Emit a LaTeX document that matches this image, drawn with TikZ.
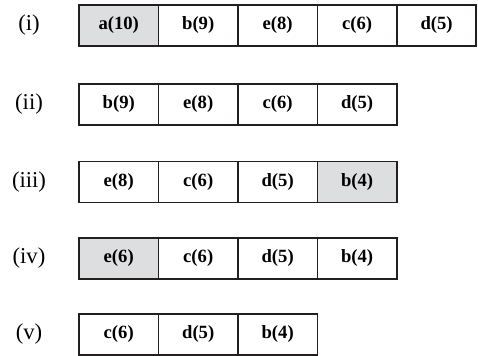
\documentclass[tikz,border=0pt]{standalone}
\usepackage{fontspec}
\setmainfont{Liberation Serif}
\usetikzlibrary{positioning}
\definecolor{CellGray}{RGB}{221,222,224}
\definecolor{CellLine}{RGB}{35,31,32}
\tikzset{
  cell/.style={draw=CellLine,line width=1.3pt,minimum width=59.6pt,
    minimum height=30.75pt,inner sep=0pt,outer sep=0pt,
    font=\fontsize{14}{16}\selectfont\bfseries},
  graycell/.style={cell,fill=CellGray},
  rowlabel/.style={inner sep=0pt,font=\fontsize{17}{20}\selectfont}
}

\begin{document}
\begin{tikzpicture}[x=0.75pt,y=-0.75pt,node distance=0pt]
  \useasboundingbox (0,0) rectangle (478,356);
  % (i)
  \node[rowlabel] (labi) at (29,25.5) {(i)};
  \node[graycell,anchor=west] (ai) at (79,25.5) {a(10)};
  \node[cell,right=of ai] (bi) {b(9)};
  \node[cell,right=of bi] (ei) {e(8)};
  \node[cell,right=of ei] (ci) {c(6)};
  \node[cell,right=of ci] (di) {d(5)};
  % (ii)
  \node[rowlabel] (labii) at (29,104.5) {(ii)};
  \node[cell,anchor=west] (bii) at (79,104.5) {b(9)};
  \node[cell,right=of bii] (eii) {e(8)};
  \node[cell,right=of eii] (cii) {c(6)};
  \node[cell,right=of cii] (dii) {d(5)};
  % (iii)
  \node[rowlabel] (labiii) at (29,182) {(iii)};
  \node[cell,anchor=west] (eiii) at (79,182) {e(8)};
  \node[cell,right=of eiii] (ciii) {c(6)};
  \node[cell,right=of ciii] (diii) {d(5)};
  \node[graycell,right=of diii] (biii) {b(4)};
  % (iv)
  \node[rowlabel] (labiv) at (29,258.5) {(iv)};
  \node[graycell,anchor=west] (eiv) at (79,258.5) {e(6)};
  \node[cell,right=of eiv] (civ) {c(6)};
  \node[cell,right=of civ] (div) {d(5)};
  \node[cell,right=of div] (biv) {b(4)};
  % (v)
  \node[rowlabel] (labv) at (29,334.5) {(v)};
  \node[cell,anchor=west] (cv) at (79,334.5) {c(6)};
  \node[cell,right=of cv] (dv) {d(5)};
  \node[cell,right=of dv] (bv) {b(4)};
\end{tikzpicture}
\end{document}
